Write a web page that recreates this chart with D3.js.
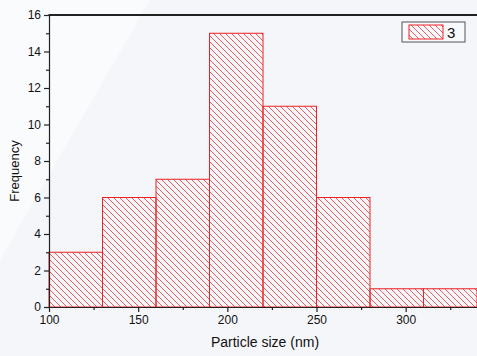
<!DOCTYPE html>
<html>
<head>
<meta charset="utf-8">
<script src="https://cdn.jsdelivr.net/npm/d3@7"></script>
<style>
  html, body { margin: 0; padding: 0; background: #f5f6fa; }
  svg { display: block; font-family: "Liberation Sans", Arial, sans-serif; }
</style>
</head>
<body>
<svg id="chart" width="477" height="356"></svg>
<script>
const binStarts = [100, 130, 160, 190, 220, 250, 280, 310];
const binWidth = 30;
const counts = [3, 6, 7, 15, 11, 6, 1, 1];
const xTicks = [100, 150, 200, 250, 300];
const yTicks = [0, 2, 4, 6, 8, 10, 12, 14, 16];
const legendLabel = "3";

const svg = d3.select("#chart");
const margin = { top: 15, right: 0, bottom: 49, left: 49 };
const width = 477, height = 356;

const x = d3.scaleLinear().domain([100, 340]).range([margin.left, width - margin.right]);
const y = d3.scaleLinear().domain([0, 16]).range([height - margin.bottom, margin.top]);

// soft lighter wedge in the background
svg.append("rect").attr("width", width).attr("height", height).attr("fill", "#f5f6fa");
svg.append("path").attr("d", "M0,0 L150,0 L0,260 Z").attr("fill", "#fafbfd");

const defs = svg.append("defs");
defs.append("pattern")
  .attr("id", "hatch")
  .attr("patternUnits", "userSpaceOnUse")
  .attr("width", 6).attr("height", 6)
  .append("path")
  .attr("d", "M0,0 L6,6 M-1,5 L1,7 M5,-1 L7,1")
  .attr("stroke", "#f04040")
  .attr("stroke-width", 0.85)
  .attr("fill", "none");

const bars = binStarts.map((s, i) => ({ start: s, count: counts[i] }));

svg.append("g").selectAll("rect")
  .data(bars)
  .enter()
  .append("rect")
  .attr("x", (d) => x(d.start))
  .attr("y", (d) => y(d.count))
  .attr("width", (d) => x(d.start + binWidth) - x(d.start))
  .attr("height", (d) => y(0) - y(d.count))
  .attr("fill", "url(#hatch)")
  .attr("stroke", "#ee2222")
  .attr("stroke-width", 1);

// axes
const xMinor = d3.range(125, 340, 50);
const yMinor = d3.range(1, 16, 2);

const gx = svg.append("g").attr("transform", `translate(0,${y(0)})`);
gx.call(d3.axisBottom(x).tickValues(xTicks).tickSize(5).tickSizeOuter(0));
gx.append("g").call(d3.axisBottom(x).tickValues(xMinor).tickSize(3).tickFormat("").tickSizeOuter(0))
  .select(".domain").remove();

const gy = svg.append("g").attr("transform", `translate(${x(100)},0)`);
gy.call(d3.axisLeft(y).tickValues(yTicks).tickSize(5).tickSizeOuter(0));
gy.append("g").call(d3.axisLeft(y).tickValues(yMinor).tickSize(3).tickFormat("").tickSizeOuter(0))
  .select(".domain").remove();

svg.selectAll(".domain, .tick line").attr("stroke", "#222").attr("stroke-width", 1.2);
svg.selectAll(".tick text").attr("font-size", 12).attr("fill", "#111")
  .attr("font-family", "Liberation Sans, Arial, sans-serif");

// top frame line
svg.append("line")
  .attr("x1", x(100) - 0.5).attr("x2", width)
  .attr("y1", y(16)).attr("y2", y(16))
  .attr("stroke", "#222").attr("stroke-width", 2);

// axis titles
svg.append("text")
  .attr("x", 265).attr("y", 347)
  .attr("text-anchor", "middle").attr("font-size", 14).attr("fill", "#111")
  .text("Particle size (nm)");
svg.append("text")
  .attr("transform", "translate(19,171) rotate(-90)")
  .attr("text-anchor", "middle").attr("font-size", 13).attr("fill", "#111")
  .text("Frequency");

// legend
const lg = svg.append("g").attr("transform", "translate(402,22)");
lg.append("rect").attr("width", 63).attr("height", 20)
  .attr("fill", "#f8f9fc").attr("stroke", "#555").attr("stroke-width", 1);
lg.append("rect").attr("x", 7).attr("y", 3).attr("width", 34).attr("height", 14)
  .attr("fill", "url(#hatch)").attr("stroke", "#ee2222").attr("stroke-width", 1);
lg.append("text").attr("x", 45).attr("y", 16).attr("font-size", 15).attr("fill", "#111")
  .text(legendLabel);
</script>
</body>
</html>
